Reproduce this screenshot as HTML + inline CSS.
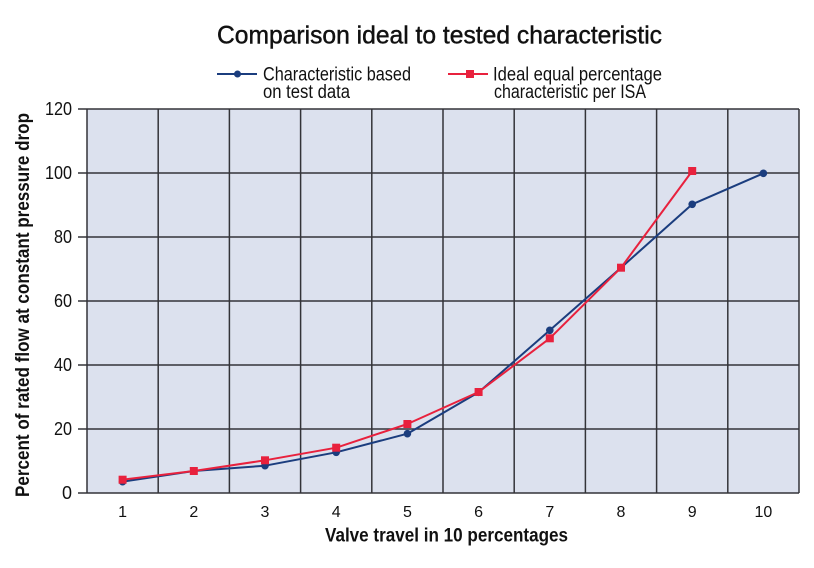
<!DOCTYPE html>
<html><head><meta charset="utf-8"><style>
html,body{margin:0;padding:0;background:#fff;}
svg{display:block;}
text{font-family:"Liberation Sans",sans-serif;fill:#111;}
</style></head><body>
<svg width="814" height="568" viewBox="0 0 814 568" xmlns="http://www.w3.org/2000/svg">
<rect width="814" height="568" fill="#fff"/>
<!-- title -->
<text x="217" y="43.5" font-size="25" textLength="445" lengthAdjust="spacingAndGlyphs" stroke="#111" stroke-width="0.45">Comparison ideal to tested characteristic</text>
<!-- legend -->
<line x1="217" y1="74" x2="257" y2="74" stroke="#1b3d7e" stroke-width="2"/>
<circle cx="237.5" cy="74" r="3.5" fill="#1b3d7e"/>
<text x="263" y="80.5" font-size="19" textLength="148" lengthAdjust="spacingAndGlyphs">Characteristic based</text>
<text x="263" y="98" font-size="19" textLength="87" lengthAdjust="spacingAndGlyphs">on test data</text>
<line x1="448" y1="74" x2="488" y2="74" stroke="#e8213d" stroke-width="2"/>
<rect x="466" y="70" width="8" height="8" fill="#e8213d"/>
<text x="493" y="80.5" font-size="19" textLength="169" lengthAdjust="spacingAndGlyphs">Ideal equal percentage</text>
<text x="494" y="98" font-size="19" textLength="152" lengthAdjust="spacingAndGlyphs">characteristic per ISA</text>
<!-- plot area -->
<rect x="87" y="109" width="712" height="384" fill="#dce1ee"/>
<g stroke="#333338" stroke-width="1.5" fill="none">
<line x1="78" y1="109" x2="799" y2="109"/>
<line x1="78" y1="173" x2="799" y2="173"/>
<line x1="78" y1="237" x2="799" y2="237"/>
<line x1="78" y1="301" x2="799" y2="301"/>
<line x1="78" y1="365" x2="799" y2="365"/>
<line x1="78" y1="429" x2="799" y2="429"/>
<line x1="78" y1="493" x2="799" y2="493"/>
<line x1="87" y1="109" x2="87" y2="493"/>
<line x1="158.2" y1="109" x2="158.2" y2="493"/>
<line x1="229.4" y1="109" x2="229.4" y2="493"/>
<line x1="300.6" y1="109" x2="300.6" y2="493"/>
<line x1="371.8" y1="109" x2="371.8" y2="493"/>
<line x1="443" y1="109" x2="443" y2="493"/>
<line x1="514.2" y1="109" x2="514.2" y2="493"/>
<line x1="585.4" y1="109" x2="585.4" y2="493"/>
<line x1="656.6" y1="109" x2="656.6" y2="493"/>
<line x1="727.8" y1="109" x2="727.8" y2="493"/>
<line x1="799" y1="109" x2="799" y2="493"/>
</g>
<!-- y tick labels -->
<g font-size="18" text-anchor="end">
<text x="72" y="115" textLength="27" lengthAdjust="spacingAndGlyphs">120</text>
<text x="72" y="179" textLength="27" lengthAdjust="spacingAndGlyphs">100</text>
<text x="72" y="243" textLength="18" lengthAdjust="spacingAndGlyphs">80</text>
<text x="72" y="307" textLength="18" lengthAdjust="spacingAndGlyphs">60</text>
<text x="72" y="371" textLength="18" lengthAdjust="spacingAndGlyphs">40</text>
<text x="72" y="435" textLength="18" lengthAdjust="spacingAndGlyphs">20</text>
<text x="72" y="499">0</text>
</g>
<!-- x tick labels -->
<g font-size="16" text-anchor="middle">
<text x="122.6" y="517">1</text>
<text x="193.8" y="517">2</text>
<text x="265" y="517">3</text>
<text x="336.2" y="517">4</text>
<text x="407.4" y="517">5</text>
<text x="478.6" y="517">6</text>
<text x="549.8" y="517">7</text>
<text x="621" y="517">8</text>
<text x="692.2" y="517">9</text>
<text x="763.4" y="517">10</text>
</g>
<!-- axis titles -->
<text x="325" y="541.5" font-size="19" font-weight="bold" textLength="243" lengthAdjust="spacingAndGlyphs">Valve travel in 10 percentages</text>
<text transform="translate(29,497) rotate(-90)" x="0" y="0" font-size="19" font-weight="bold" textLength="384" lengthAdjust="spacingAndGlyphs">Percent of rated flow at constant pressure drop</text>
<!-- blue series -->
<polyline fill="none" stroke="#1b3d7e" stroke-width="2" stroke-linejoin="round"
 points="122.6,481.7 193.8,471 265,465.7 336.2,452.3 407.4,433.7 478.6,392.3 549.8,330.3 621,267.7 692.2,204.3 763.4,173.3"/>
<g fill="#1b3d7e">
<circle cx="122.6" cy="481.7" r="3.8"/>
<circle cx="193.8" cy="471" r="3.8"/>
<circle cx="265" cy="465.7" r="3.8"/>
<circle cx="336.2" cy="452.3" r="3.8"/>
<circle cx="407.4" cy="433.7" r="3.8"/>
<circle cx="478.6" cy="392.3" r="3.8"/>
<circle cx="549.8" cy="330.3" r="3.8"/>
<circle cx="621" cy="267.7" r="3.8"/>
<circle cx="692.2" cy="204.3" r="3.8"/>
<circle cx="763.4" cy="173.3" r="3.8"/>
</g>
<!-- red series -->
<polyline fill="none" stroke="#e8213d" stroke-width="2" stroke-linejoin="round"
 points="122.6,479.7 193.8,471 265,460.3 336.2,447.7 407.4,424 478.6,392 549.8,338.3 621,267.7 692.2,171"/>
<g fill="#e8213d">
<rect x="118.6" y="475.7" width="8" height="8"/>
<rect x="189.8" y="467" width="8" height="8"/>
<rect x="261" y="456.3" width="8" height="8"/>
<rect x="332.2" y="443.7" width="8" height="8"/>
<rect x="403.4" y="420" width="8" height="8"/>
<rect x="474.6" y="388" width="8" height="8"/>
<rect x="545.8" y="334.3" width="8" height="8"/>
<rect x="617" y="263.7" width="8" height="8"/>
<rect x="688.2" y="167" width="8" height="8"/>
</g>
</svg>
</body></html>
